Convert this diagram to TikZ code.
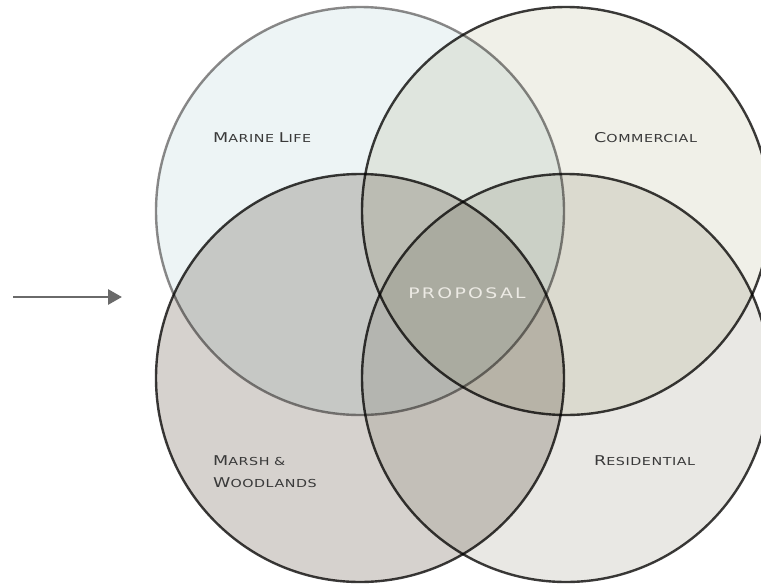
\documentclass[tikz,border=0pt]{standalone}
\usepackage{fontspec}
\usepackage{tikz}
\usetikzlibrary{positioning,arrows.meta}
\usepackage{xcolor}

\newfontfamily\vennfont[FakeStretch=1.3,LetterSpace=5]{DejaVu Sans}
\newfontfamily\propfont[FakeStretch=1.3,LetterSpace=16]{DejaVu Sans}
% fake small caps: big first letter, smaller rest
\newcommand\smcap[2]{{\fontsize{13.5}{15}\selectfont #1}{\fontsize{11}{12}\selectfont #2}}

\definecolor{marinefill}{RGB}{237,244,245}
\definecolor{commfill}{RGB}{240,240,232}
\definecolor{marshfill}{RGB}{214,210,206}
\definecolor{resfill}{RGB}{233,232,228}
\definecolor{lightedge}{RGB}{140,138,138}
\definecolor{darkedge}{RGB}{60,59,58}
\definecolor{labeltext}{RGB}{58,58,58}
\definecolor{proptext}{RGB}{236,234,228}
\definecolor{arrowgray}{RGB}{106,106,106}

\tikzset{
  setcircle/.style={line width=2.4pt},
  setlabel/.style={anchor=base west, inner sep=0pt, text=labeltext, font=\vennfont},
  arrowline/.style={arrowgray, line width=2.8pt, -{Triangle[length=14pt,width=15pt]}}
}

\begin{document}
\begin{tikzpicture}[x=1pt,y=-1pt]
  \useasboundingbox (0,0) rectangle (761,584);
  \clip (0,0) rectangle (761,584);
  \fill[white] (0,0) rectangle (761,584);
  % Circles, multiplied so the overlaps darken
  \begin{scope}[blend group=multiply]
    \filldraw[setcircle, fill=marinefill, draw=lightedge] (360,211) circle[radius=204];
    \filldraw[setcircle, fill=commfill, draw=darkedge] (566,211) circle[radius=204];
    \filldraw[setcircle, fill=marshfill, draw=darkedge] (360,378) circle[radius=204];
    \filldraw[setcircle, fill=resfill, draw=darkedge] (566,378) circle[radius=204];
  \end{scope}
  % Labels
  \node[setlabel] (marine) at (213,142) {\smcap{M}{ARINE} \smcap{L}{IFE}};
  \node[setlabel] (commercial) at (594,142) {\smcap{C}{OMMERCIAL}};
  \node[setlabel] (marsh) at (213,465) {\smcap{M}{ARSH} \smcap{}{\&}};
  \node[setlabel] (woodlands) at (213,487) {\smcap{W}{OODLANDS}};
  \node[setlabel] (residential) at (594,465) {\smcap{R}{ESIDENTIAL}};
  \node[anchor=base, inner sep=0pt, text=proptext, font=\propfont\fontsize{14.5}{16}\selectfont] (proposal) at (467,298) {PROPOSAL};
  % Arrow pointing in
  \coordinate (arrowstart) at (13,297);
  \coordinate (arrowend) at (122,297);
  \draw[arrowline] (arrowstart) -- (arrowend);
\end{tikzpicture}
\end{document}
